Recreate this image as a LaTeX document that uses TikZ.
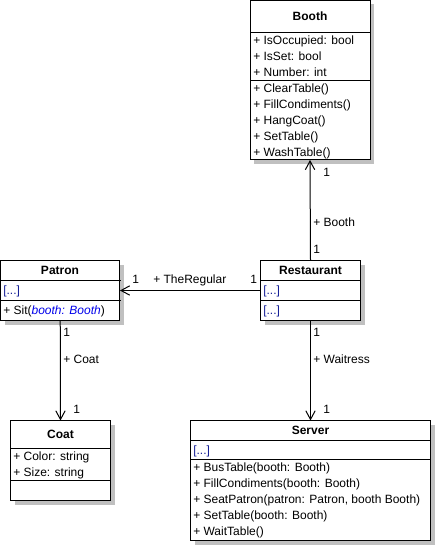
\documentclass[tikz,border=0pt]{standalone}
\usepackage{fontspec}
\setmainfont{Liberation Sans}
\usetikzlibrary{arrows.meta,shadows}
\definecolor{navyt}{RGB}{20,30,150}
\definecolor{bluet}{RGB}{0,0,235}
\definecolor{shade}{RGB}{192,192,192}
\tikzset{
  cls/.style={draw, line width=0.75pt, fill=white, inner sep=0pt, outer sep=0pt, anchor=north west,
    drop shadow={shadow xshift=3pt, shadow yshift=-3pt, fill=shade, opacity=1}},
  sepline/.style={line width=0.75pt},
  ttl/.style={inner sep=0pt, font=\bfseries\fontsize{9}{11}\selectfont, text height=6.4pt, text depth=0pt},
  row/.style={anchor=west, inner sep=0pt, font=\fontsize{9}{11}\selectfont, text height=6.4pt, text depth=0pt},
  lbl/.style={anchor=west, inner sep=0pt, font=\fontsize{9}{11}\selectfont, text height=6.4pt, text depth=0pt},
  assoc/.style={line width=0.75pt, -{Straight Barb[length=6.5pt,width=7pt,line width=0.75pt]}},
}
\begin{document}
\begin{tikzpicture}[x=0.75pt,y=-0.75pt]
\useasboundingbox (0,0) rectangle (435,545);

% Booth
\node[cls, minimum width=90pt, minimum height=119.6pt] (booth) at (250,0.5) {};
\node[ttl] (boothT) at (310,16.5) {Booth};
\draw[sepline] (250,32.5) -- (370,32.5);
\draw[sepline] (250,80.5) -- (370,80.5);
\node[row] (b1) at (253,40.5) {+ IsOccupied: bool};
\node[row] (b2) at (253,56.5) {+ IsSet: bool};
\node[row] (b3) at (253,72.5) {+ Number: int};
\node[row] (b4) at (253,88.5) {+ ClearTable()};
\node[row] (b5) at (253,104.5) {+ FillCondiments()};
\node[row] (b6) at (253,120.5) {+ HangCoat()};
\node[row] (b7) at (253,136.5) {+ SetTable()};
\node[row] (b8) at (253,152.5) {+ WashTable()};

% Patron
\node[cls, minimum width=89.6pt, minimum height=45pt] (patron) at (0.5,260.5) {};
\node[ttl] (patronT) at (60,270.5) {Patron};
\draw[sepline] (0.5,280.5) -- (120.5,280.5);
\draw[sepline] (0.5,300.5) -- (120.5,300.5);
\node[row, text=navyt] (p1) at (3,290.5) {[...]};
\node[row] (p2) at (3,310.5) {+ Sit(\textcolor{bluet}{\itshape booth: Booth})};

% Restaurant
\node[cls, minimum width=75pt, minimum height=45pt] (rest) at (260.5,260.5) {};
\node[ttl] (restT) at (310.5,270.5) {Restaurant};
\draw[sepline] (260.5,280.5) -- (360.5,280.5);
\draw[sepline] (260.5,300.5) -- (360.5,300.5);
\node[row, text=navyt] (r1) at (263,290.5) {[...]};
\node[row, text=navyt] (r2) at (263,310.5) {[...]};

% Coat
\node[cls, minimum width=75pt, minimum height=60pt] (coat) at (10.5,420.5) {};
\node[ttl] (coatT) at (60.5,434.5) {Coat};
\draw[sepline] (10.5,448.5) -- (110.5,448.5);
\draw[sepline] (10.5,480.5) -- (110.5,480.5);
\node[row] (c1) at (13,456.5) {+ Color: string};
\node[row] (c2) at (13,472.5) {+ Size: string};

% Server
\node[cls, minimum width=180pt, minimum height=90pt] (server) at (190.5,420.5) {};
\node[ttl] (serverT) at (310.5,430.5) {Server};
\draw[sepline] (190.5,440.5) -- (430.5,440.5);
\draw[sepline] (190.5,459.5) -- (430.5,459.5);
\node[row, text=navyt] (s0) at (193,450) {[...]};
\node[row] (s1) at (193,467.5) {+ BusTable(booth: Booth)};
\node[row] (s2) at (193,483.5) {+ FillCondiments(booth: Booth)};
\node[row] (s3) at (193,499.5) {+ SeatPatron(patron: Patron, booth Booth)};
\node[row] (s4) at (193,515.5) {+ SetTable(booth: Booth)};
\node[row] (s5) at (193,531.5) {+ WaitTable()};

% connectors
\draw[assoc] (rest.north) -- (booth.south);
\draw[assoc] (rest.west) -- (patron.east);
\draw[assoc] (patron.south) -- (coat.north);
\draw[assoc] (rest.south) -- (server.north);

% labels
\node[lbl] (l1) at (323,172) {1};
\node[lbl] (l2) at (313,222) {+ Booth};
\node[lbl] (l3) at (313,249) {1};

\node[lbl] (l4) at (132,279) {1};
\node[lbl] (l5) at (153,279) {+ TheRegular};
\node[lbl] (l6) at (250,279) {1};

\node[lbl] (l7) at (63,332) {1};
\node[lbl] (l8) at (63,359) {+ Coat};
\node[lbl] (l9) at (73,409) {1};

\node[lbl] (l10) at (313,332) {1};
\node[lbl] (l11) at (313,359) {+ Waitress};
\node[lbl] (l12) at (323,409) {1};
\end{tikzpicture}
\end{document}
